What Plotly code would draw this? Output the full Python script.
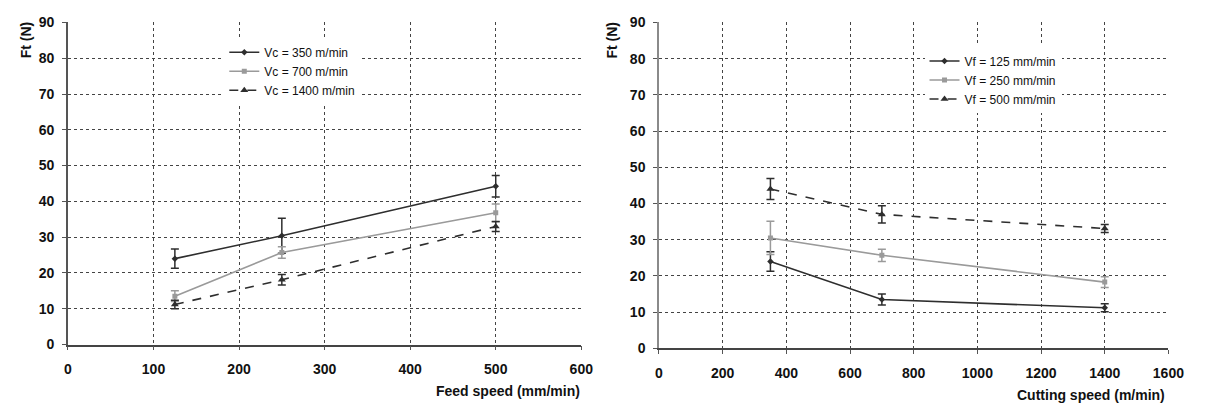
import plotly.graph_objects as go

# ---- data: left chart (x = feed speed) ----
feed_speed = [125, 250, 500]
vc350 = [24.0, 30.4, 44.2]
vc350_err = [2.7, 4.9, 3.0]
vc700 = [13.5, 25.7, 36.8]
vc700_err = [1.5, 1.6, 2.5]
vc1400 = [11.2, 18.1, 33.0]
vc1400_err = [1.2, 1.5, 1.4]

# ---- data: right chart (x = cutting speed) ----
cutting_speed = [350, 700, 1400]
vf125 = [24.0, 13.5, 11.2]
vf125_err = [2.7, 1.5, 1.1]
vf250 = [30.5, 25.7, 18.3]
vf250_err = [4.6, 1.7, 1.5]
vf500 = [44.0, 37.0, 33.1]
vf500_err = [2.9, 2.4, 1.1]

left_names = ["Vc = 350 m/min", "Vc = 700 m/min", "Vc = 1400 m/min"]
right_names = ["Vf = 125 mm/min", "Vf = 250 mm/min", "Vf = 500 mm/min"]

DARK = "#2e2e2e"
GRAY = "#9a9a9a"
styles = [
    dict(color=DARK, dash="solid", symbol="diamond", msize=5),
    dict(color=GRAY, dash="solid", symbol="square", msize=5),
    dict(color=DARK, dash="dash", symbol="triangle-up", msize=7),
]

FONT = "Liberation Sans, Arial, sans-serif"

fig = go.Figure()

left_series = [(vc350, vc350_err), (vc700, vc700_err), (vc1400, vc1400_err)]
right_series = [(vf125, vf125_err), (vf250, vf250_err), (vf500, vf500_err)]

for (y, e), name, st in zip(left_series, left_names, styles):
    fig.add_trace(go.Scatter(
        x=feed_speed, y=y, name=name, mode="lines+markers",
        line=dict(color=st["color"], width=1.6, dash=st["dash"]),
        marker=dict(symbol=st["symbol"], size=st["msize"], color=st["color"]),
        error_y=dict(type="data", array=e, visible=True, color=st["color"], thickness=1.5, width=4),
        xaxis="x", yaxis="y", legend="legend",
    ))

for (y, e), name, st in zip(right_series, right_names, styles):
    fig.add_trace(go.Scatter(
        x=cutting_speed, y=y, name=name, mode="lines+markers",
        line=dict(color=st["color"], width=1.6, dash=st["dash"]),
        marker=dict(symbol=st["symbol"], size=st["msize"], color=st["color"]),
        error_y=dict(type="data", array=e, visible=True, color=st["color"], thickness=1.5, width=4),
        xaxis="x2", yaxis="y2", legend="legend2",
    ))

tickfont = dict(family=FONT, size=14, color="#111", weight=700)
grid = dict(showgrid=True, gridcolor="#444", griddash="dot", gridwidth=1,
            zeroline=False, showline=True, linewidth=1.5,
            ticks="outside", ticklen=4, tickcolor="#555", tickfont=tickfont)

W, H = 1209, 416
def px_x(p): return p / W
def px_y(p): return 1 - p / H

fig.update_layout(
    width=W, height=H,
    margin=dict(l=0, r=0, t=0, b=0),
    paper_bgcolor="white", plot_bgcolor="white",
    font=dict(family=FONT),
    xaxis=dict(domain=[px_x(65), px_x(587)], range=[0, 600], dtick=100, anchor="y",
               linecolor="#444", ticklabelstandoff=7, **grid),
    yaxis=dict(domain=[px_y(350), px_y(15)], range=[0, 90], dtick=10, anchor="x",
               linecolor="#555", ticklabelstandoff=5, **grid),
    xaxis2=dict(domain=[px_x(666), px_x(1184)], range=[0, 1600], dtick=200, anchor="y2",
                linecolor="#444", ticklabelstandoff=7, **grid),
    yaxis2=dict(domain=[px_y(354), px_y(15)], range=[0, 90], dtick=10, anchor="x2",
                linecolor="#8a8a8a", ticklabelstandoff=5, **grid),
    legend=dict(x=px_x(224), y=px_y(31), xanchor="left", yanchor="top",
                bgcolor="white", borderwidth=0,
                font=dict(family=FONT, size=12, color="#111"),
                itemwidth=30, tracegroupgap=0),
    legend2=dict(x=px_x(936), y=px_y(40), xanchor="left", yanchor="top",
                 bgcolor="white", borderwidth=0,
                 font=dict(family=FONT, size=12, color="#111"),
                 itemwidth=30, tracegroupgap=0),
    showlegend=True,
)

titlefont = dict(family=FONT, size=14, color="#111", weight=700)
fig.add_annotation(text="<b>Ft (N)</b>", textangle=-90, x=px_x(22), y=px_y(33),
                   xref="paper", yref="paper", showarrow=False, font=titlefont,
                   xanchor="center", yanchor="middle")
fig.add_annotation(text="<b>Ft (N)</b>", textangle=-90, x=px_x(618), y=px_y(33),
                   xref="paper", yref="paper", showarrow=False, font=titlefont,
                   xanchor="center", yanchor="middle")
fig.add_annotation(text="<b>Feed speed (mm/min)</b>", x=px_x(588), y=px_y(398),
                   xref="paper", yref="paper", showarrow=False, font=titlefont,
                   xanchor="right", yanchor="middle")
fig.add_annotation(text="<b>Cutting speed (m/min)</b>", x=px_x(1183), y=px_y(402),
                   xref="paper", yref="paper", showarrow=False, font=titlefont,
                   xanchor="right", yanchor="middle")

fig.write_html("out.html")
